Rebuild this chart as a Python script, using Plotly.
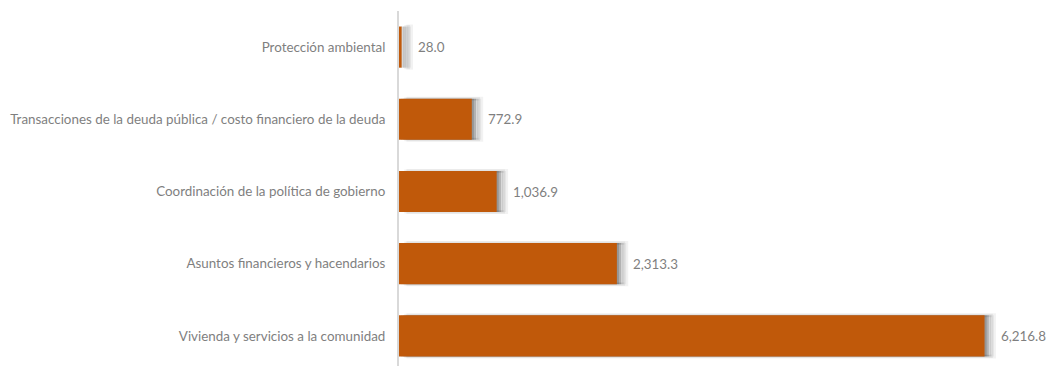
import plotly.graph_objects as go

categories = [
    "Vivienda y servicios a la comunidad",
    "Asuntos financieros y hacendarios",
    "Coordinación de la política de gobierno",
    "Transacciones de la deuda pública / costo financiero de la deuda",
    "Protección ambiental",
]
values = [6216.8, 2313.3, 1036.9, 772.9, 28.0]
labels = [f"{v:,.1f}" for v in values]

BAR = "#C0590A"
TXT = "#7f7f7f"
FONT = "Lato, 'Open Sans', sans-serif"
# soft drop shadow layers: (shift in data units, fill alpha, outline alpha, outline width)
shadow_layers = [(100, 0.05, 0.05, 4), (72, 0.10, 0.06, 3), (45, 0.18, 0.0, 0), (22, 0.16, 0.0, 0)]

fig = go.Figure()
for shift, fa, la, lw in shadow_layers:
    fig.add_trace(go.Bar(
        y=categories, x=values, base=shift, orientation="h",
        marker=dict(color=f"rgba(0,0,0,{fa})", line=dict(color=f"rgba(0,0,0,{la})", width=lw)),
        hoverinfo="skip", showlegend=False,
    ))
fig.add_trace(go.Bar(
    y=categories, x=values, orientation="h",
    marker=dict(color=BAR, line=dict(width=0)), showlegend=False,
))
for c, v, t in zip(categories, values, labels):
    fig.add_annotation(x=v, y=c, text=t, showarrow=False, xanchor="left",
                       xshift=14, font=dict(family=FONT, size=13.4, color=TXT))

fig.update_layout(
    width=1047, height=366, barmode="overlay", bargap=0.43,
    margin=dict(l=399, r=0, t=11, b=0),
    paper_bgcolor="white", plot_bgcolor="white",
    font=dict(family=FONT, size=13.4, color=TXT),
    xaxis=dict(range=[0, 6880], visible=False, showgrid=False, zeroline=False),
    yaxis=dict(range=[-0.417, 4.5], showline=True, linecolor="#d9d9d9", linewidth=2,
               showgrid=False, zeroline=False, ticks="", ticklabelstandoff=9,
               tickfont=dict(family=FONT, size=13.4, color=TXT)),
)
fig.write_html("out.html", config={"displayModeBar": False},
               post_script="document.body.style.margin='0';document.body.style.overflow='hidden';")
